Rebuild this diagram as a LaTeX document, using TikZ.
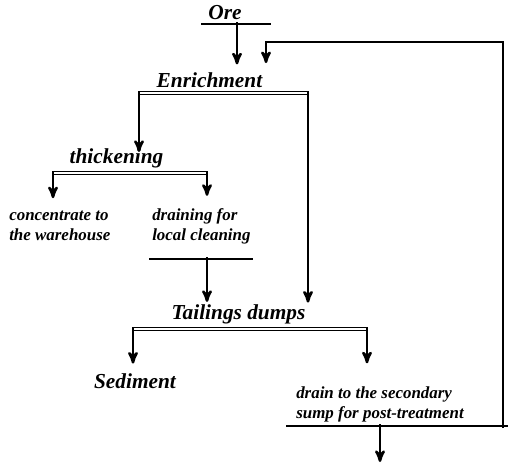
\documentclass[tikz,border=0pt]{standalone}
\usepackage{fontspec}
\setmainfont{Liberation Serif}
\usepackage{tikz}
\usetikzlibrary{arrows}

\tikzset{
	big/.style={font=\fontsize{16}{18}\selectfont\bfseries\itshape, inner sep=0pt},
	small/.style={font=\fontsize{12.7}{15}\selectfont\bfseries\itshape, inner sep=0pt, align=left},
	bar/.style={line width=1.9pt},
	dbar/.style={double, double distance=0.9pt, line width=1.1pt},
	flow/.style={->, line width=1.9pt, shorten <=-1.5pt}
}

\begin{document}
\begin{tikzpicture}[x=0.75pt,y=-0.75pt,>=stealth']
		\useasboundingbox (0,0) rectangle (508,464);
		\node[big,anchor=base] (ore) at (225,20) {Ore};
		\node[big,anchor=base] (enrich) at (209.5,87.5) {Enrichment};
		\node[big,anchor=base] (thick) at (116.5,163) {thickening};
		\node[small,anchor=base west] (conc) at (9,240) {concentrate to\\the warehouse};
		\node[small,anchor=base west] (drainloc) at (152,240) {draining for\\local cleaning};
		\node[big,anchor=base] (tail) at (238.5,319) {Tailings dumps};
		\node[big,anchor=base] (sed) at (135,388) {Sediment};
		\node[small,anchor=base west] (drainsec) at (296,418) {drain to the secondary\\sump for post-treatment};
	
		% bars under the stages
		\coordinate (o1) at (237,24);
		\coordinate (e1) at (139,93);
		\coordinate (e2) at (308,93);
		\coordinate (k1) at (53,173);
		\coordinate (k2) at (207,173);
		\coordinate (l1) at (207,259);
		\coordinate (t1) at (133,329);
		\coordinate (t2) at (367,329);
		\coordinate (s1) at (380,426);
		\coordinate (r1) at (503,426);
		\coordinate (r2) at (266,42);
		\coordinate (out) at (380,462);
		\draw[bar] (201,24) -- (271,24);
		\draw[bar] (149,259) -- (253,259);
		\draw[bar] (286,426) -- (508,426);
		\draw[dbar] (e1) -- (e2);
		\draw[dbar] (k1) -- (k2);
		\draw[dbar] (t1) -- (t2);
	
		\draw[flow,shorten >=6pt] (o1) -- (o1 |- enrich.north);
		\draw[flow,shorten >=7pt] (r1) |- (r2) -- (r2 |- enrich.north);
		\draw[flow,shorten >=-3pt] (e1) -- (e1 |- thick.north);
		\draw[flow,shorten >=1pt] (e2) -- (e2 |- tail.north);
		\draw[flow,shorten >=9pt] (k1) -- (k1 |- conc.north);
		\draw[flow,shorten >=9pt] (k2) -- (k2 |- drainloc.north);
		\draw[flow,shorten >=1.5pt] (l1) -- (l1 |- tail.north);
		\draw[flow,shorten >=7pt] (t1) -- (t1 |- sed.north);
		\draw[flow,shorten >=17pt] (t2) -- (t2 |- drainsec.north);
		\draw[flow] (s1) -- (out);
\end{tikzpicture}
\end{document}
